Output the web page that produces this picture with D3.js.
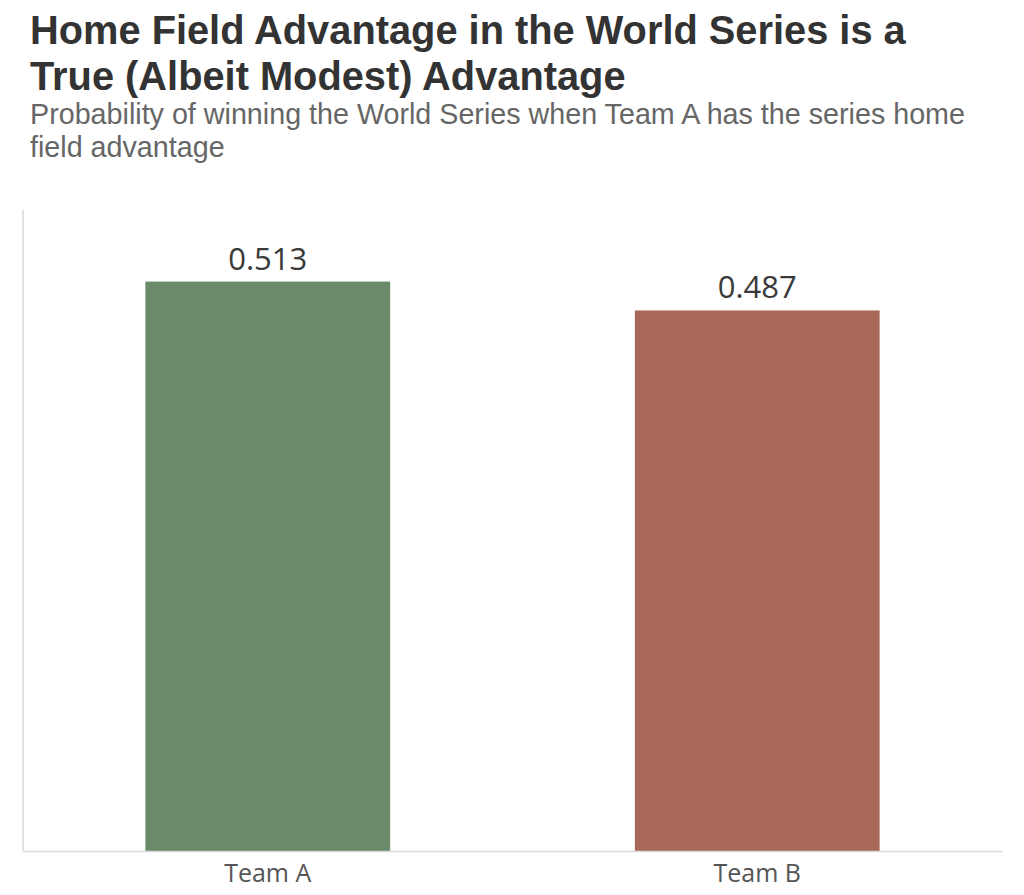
<!DOCTYPE html>
<html><head><meta charset="utf-8">
<script src="https://cdn.jsdelivr.net/npm/d3@7"></script>
<style>body{margin:0;background:#fff}svg{display:block}</style>
</head><body>
<script>
const categories = ["Team A", "Team B"];
const values = [0.513, 0.487];
const labels = ["0.513", "0.487"];
const colors = ["#6a8a6a", "#a86857"];

(function () {
const W = 1024, H = 895;
const svg = d3.select("body").append("svg").attr("width", W).attr("height", H);

const pLeft = 23, pRight = 1002, pTop = 210, pBottom = 851;
const x = d3.scaleBand().domain(categories).range([pLeft, pRight]).paddingInner(0.5).paddingOuter(0.25);
const y = d3.scaleLinear().domain([0, 0.5775]).range([pBottom, pTop]);

const ff = "Liberation Sans, Arial, sans-serif";
svg.append("text").attr("x", 30).attr("y", 44).attr("font-family", ff)
  .attr("font-weight", "bold").attr("font-size", 39.8).attr("fill", "#333").text("Home Field Advantage in the World Series is a");
svg.append("text").attr("x", 30).attr("y", 90).attr("font-family", ff)
  .attr("font-weight", "bold").attr("font-size", 39.8).attr("fill", "#333").text("True (Albeit Modest) Advantage");
svg.append("text").attr("x", 30).attr("y", 124).attr("font-family", ff)
  .attr("font-size", 28.7).attr("fill", "#666").text("Probability of winning the World Series when Team A has the series home");
svg.append("text").attr("x", 30).attr("y", 157).attr("font-family", ff)
  .attr("font-size", 28.7).attr("fill", "#666").text("field advantage");

svg.selectAll("rect.bar").data(categories).enter().append("rect").attr("class", "bar")
  .attr("x", d => x(d)).attr("width", x.bandwidth())
  .attr("y", (d, i) => y(values[i])).attr("height", (d, i) => y(0) - y(values[i]))
  .attr("fill", (d, i) => colors[i]);

svg.selectAll("text.val").data(categories).enter().append("text").attr("class", "val")
  .attr("x", d => x(d) + x.bandwidth() / 2).attr("y", (d, i) => y(values[i]) - 12)
  .attr("text-anchor", "middle").attr("font-family", "Open Sans, sans-serif").attr("font-size", 31)
  .attr("fill", "#3a3a3a").text((d, i) => labels[i]);

svg.append("line").attr("x1", pLeft).attr("x2", pLeft).attr("y1", pTop).attr("y2", pBottom)
  .attr("stroke", "#d9d9d9").attr("stroke-width", 1.5);
const xAxis = svg.append("g").attr("transform", `translate(0,${pBottom})`)
  .call(d3.axisBottom(x).tickSize(0).tickPadding(13));
xAxis.select(".domain").attr("stroke", "#d9d9d9").attr("stroke-width", 1.5);
xAxis.selectAll("text").attr("font-family", "Open Sans, sans-serif").attr("font-size", 25).attr("fill", "#555");
})();
</script>
</body></html>
